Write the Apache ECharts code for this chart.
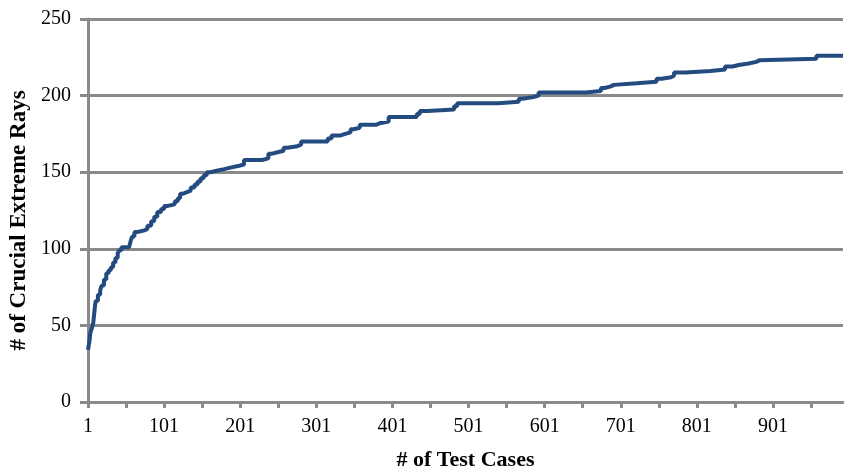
<!DOCTYPE html>
<html>
<head>
<meta charset="utf-8">
<script src="https://cdn.jsdelivr.net/npm/echarts@6/dist/echarts.min.js"></script>
<style>
html,body{margin:0;padding:0;background:#fff;}
#chart{width:844px;height:469px;}
</style>
</head>
<body>
<div id="chart"></div>
<script>
// Test case number at which the count changes
const testCases = [1, 3, 4, 6, 8, 10, 11, 14, 17, 19, 22, 25, 28, 31, 34, 37, 40, 42, 45, 55, 57, 59, 62, 66, 75, 79, 84, 88, 92, 97, 101, 106, 115, 119, 122, 126, 131, 136, 141, 145, 149, 153, 157, 162, 170, 180, 188, 198, 206, 230, 238, 242, 250, 258, 263, 276, 281, 316, 321, 333, 339, 346, 350, 358, 380, 384, 396, 433, 437, 447, 482, 486, 540, 567, 572, 586, 593, 655, 675, 680, 688, 692, 722, 748, 755, 767, 771, 786, 819, 838, 848, 856, 869, 879, 883, 958, 993];
// Number of crucial extreme rays from that test case on
const extremeRays = [34, 40, 45, 48, 52, 62, 66, 70, 73, 76, 80, 84, 86, 88, 91, 94, 97, 99, 101, 102, 105, 108, 111, 112, 113, 115, 118, 121, 124, 126, 128, 129, 131, 133, 136, 137, 138, 140, 142, 144, 146, 148, 150, 151, 152, 153, 154, 155, 158, 159, 162, 163, 164, 166, 167, 168, 170, 172, 174, 175, 176, 178, 179, 181, 182, 183, 186, 188, 190, 191, 193, 195, 196, 198, 199, 200, 202, 203, 205, 206, 207, 208, 209, 211, 212, 213, 215, 216, 217, 219, 220, 221, 222, 223, 224, 226, 226];
const xTickLabels = ['1', '101', '201', '301', '401', '501', '601', '701', '801', '901'];
const yTickLabels = ['0', '50', '100', '150', '200', '250'];
const lastCase = 993;

const seriesData = testCases.map((t, i) => [t - 1, extremeRays[i]]);

const chart = echarts.init(document.getElementById('chart'), null, {renderer: 'canvas'});
const grey = '#8a8a8a';
const font = '"Liberation Serif", "Times New Roman", serif';
chart.setOption({
  animation: false,
  backgroundColor: '#ffffff',
  grid: {left: 88, right: 1, top: 19, bottom: 67, containLabel: false, outerBoundsMode: 'none'},
  xAxis: {
    type: 'value',
    min: 0,
    max: lastCase - 1,
    interval: 50,
    name: '# of Test Cases',
    nameLocation: 'middle',
    nameGap: 47,
    nameTextStyle: {fontFamily: font, fontWeight: 'bold', fontSize: 22, color: '#000'},
    axisLine: {show: true, lineStyle: {color: grey, width: 3}},
    axisTick: {show: true, length: 6, lineStyle: {color: grey, width: 3}},
    axisLabel: {
      margin: 15,
      fontFamily: font, fontSize: 20, color: '#000',
      showMaxLabel: false,
      formatter: v => (v % 100 === 0 && xTickLabels[v / 100] !== undefined) ? xTickLabels[v / 100] : ''
    },
    splitLine: {show: false}
  },
  yAxis: {
    type: 'value',
    min: 0,
    max: 250,
    interval: 50,
    name: '# of Crucial Extreme Rays',
    nameLocation: 'middle',
    nameGap: 52,
    nameTextStyle: {fontFamily: font, fontWeight: 'bold', fontSize: 23, color: '#000', padding: [0, 20, 0, 0]},
    axisLine: {show: true, lineStyle: {color: grey, width: 3}},
    axisTick: {show: true, length: 8, lineStyle: {color: grey, width: 3}},
    axisLabel: {
      margin: 17,
      fontFamily: font, fontSize: 20, color: '#000',
      formatter: v => yTickLabels[v / 50]
    },
    splitLine: {show: true, lineStyle: {color: grey, width: 3}}
  },
  series: [{
    type: 'line',
    step: 'end',
    data: seriesData,
    showSymbol: false,
    lineStyle: {color: '#234b80', width: 4},
    itemStyle: {color: '#234b80'}
  }]
});
</script>
</body>
</html>
